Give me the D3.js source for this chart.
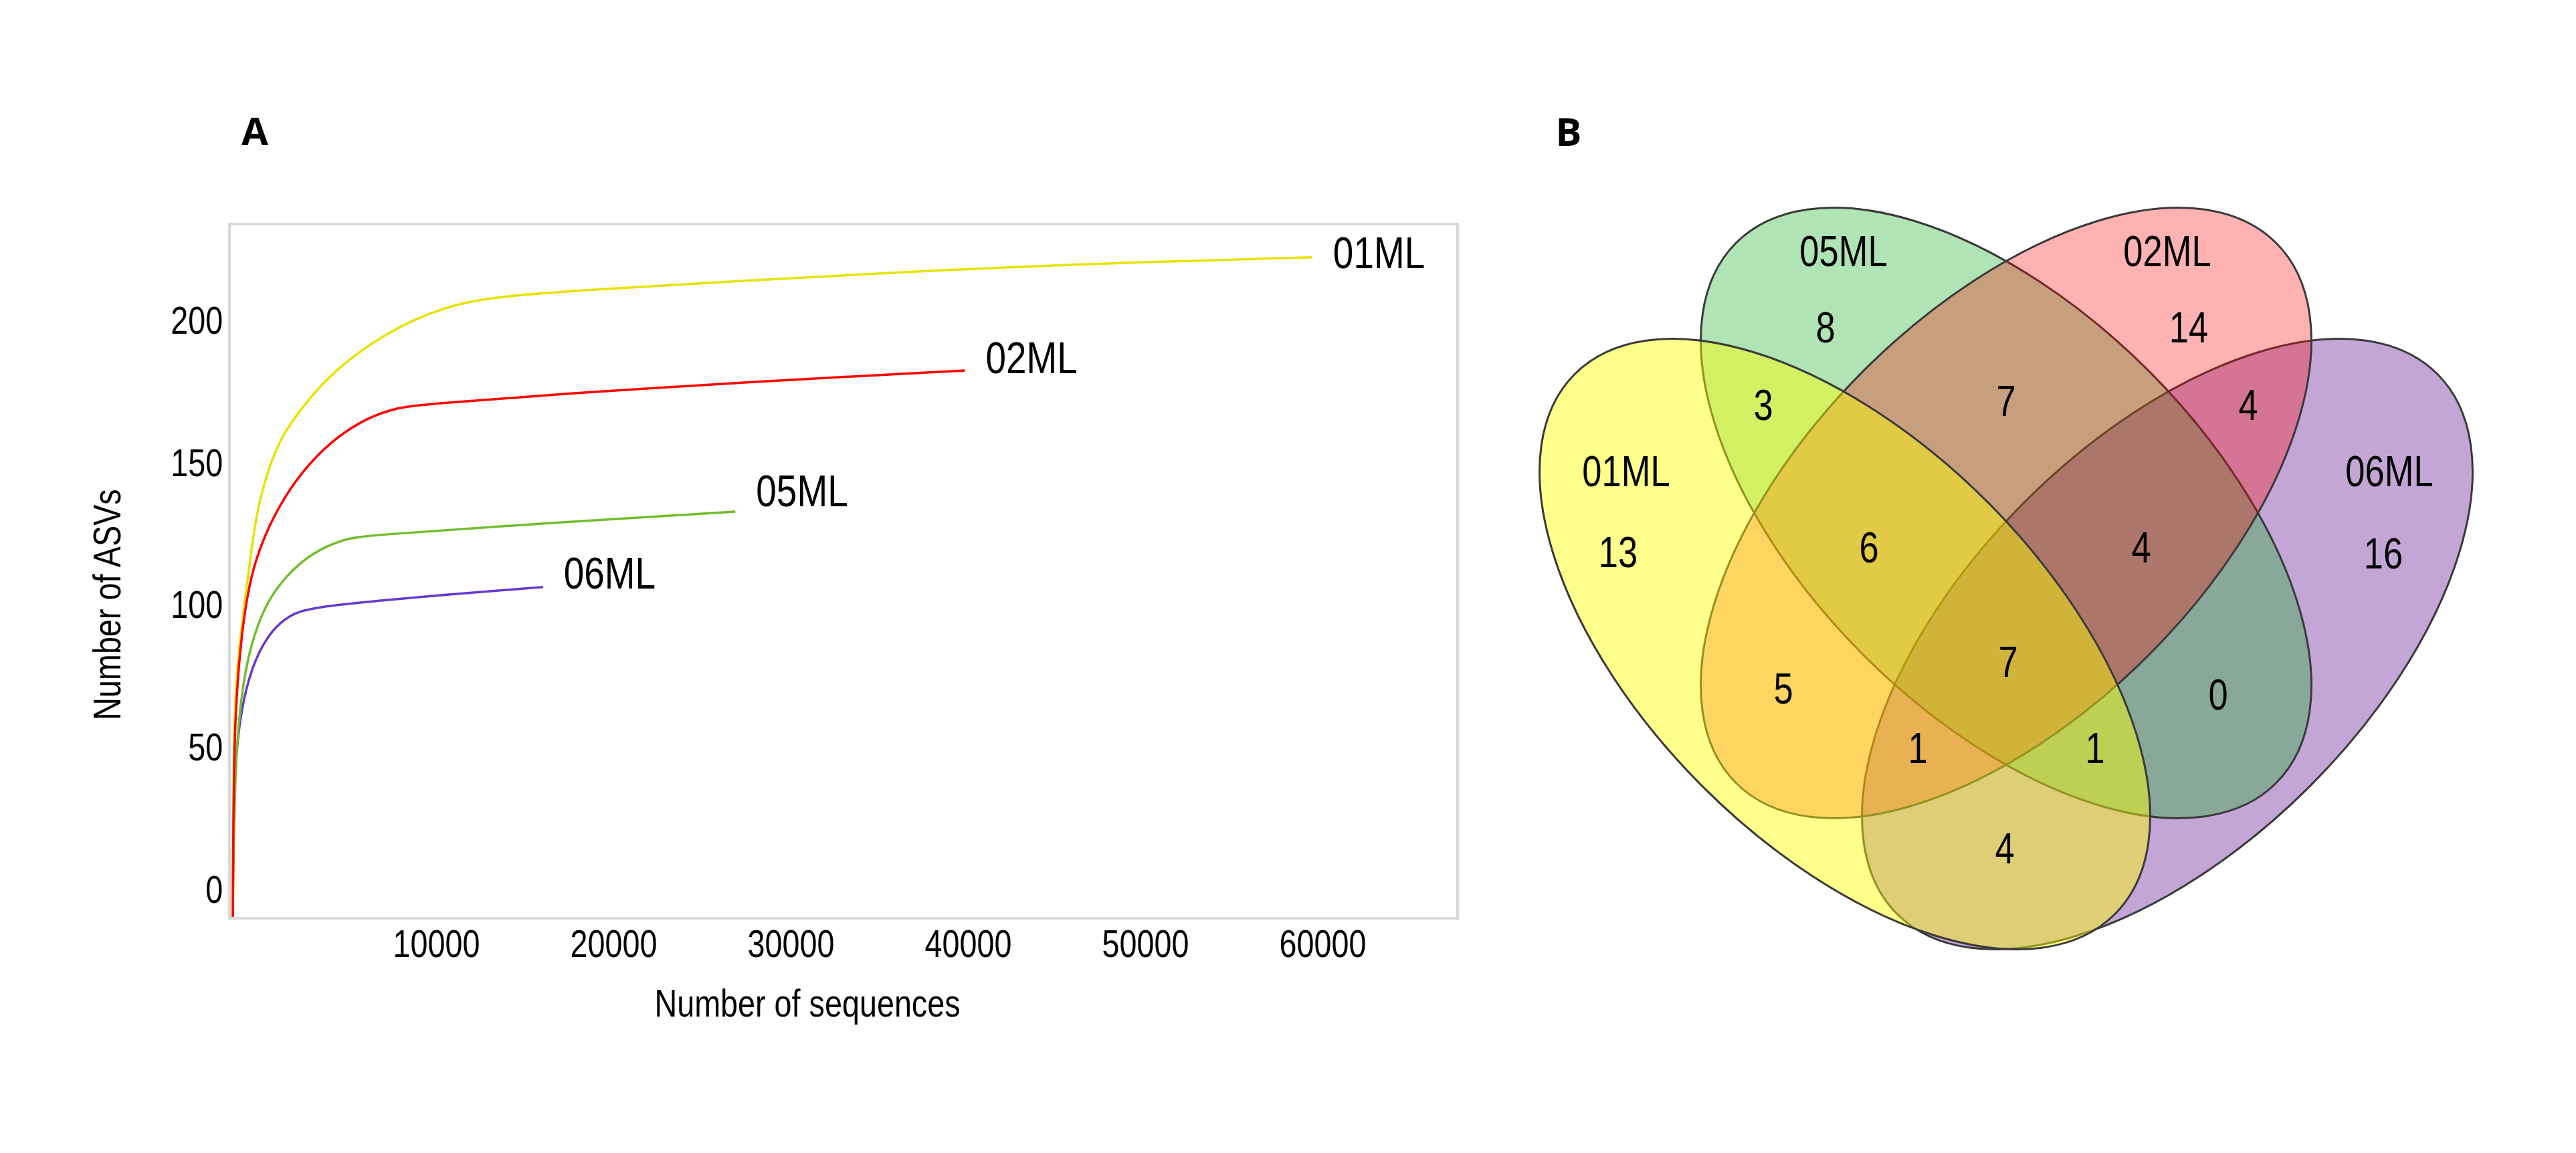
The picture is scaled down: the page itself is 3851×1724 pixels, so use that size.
<!DOCTYPE html>
<html>
<head>
<meta charset="utf-8">
<script src="https://cdn.jsdelivr.net/npm/d3@7"></script>
<style>
  body { margin: 0; background: #fff; }
  text { font-family: "Liberation Sans", Arial, sans-serif; fill: #000; }
</style>
</head>
<body>
<div id="fig"></div>
<script>
// ---- panel A: rarefaction curves, [sequences, ASVs]
const samples = ["01ML", "02ML", "05ML", "06ML"];
const curve01 = [[0,-10],[40,40],[100,62],[250,78],[453,90],[705,103],[1000,117],[1272,129.5],[1585,138.5],[1962,147],[2581,157],[3220,163.8],[4479,174.2],[5736,182.2],[7238,189.7],[8700,195.5],[10125,200.2],[12000,204.9],[14360,208.4],[20000,211],[28400,214],[40000,218],[50000,220.5],[60900,222.4]];
const curve02 = [[0,-10],[50,40],[150,62],[400,85],[883,107.3],[1558,121.3],[2615,135.3],[3962,147.6],[5506,157.5],[7250,165],[8970,169.1],[10500,170.7],[20000,175],[28400,178.4],[41300,182.6]];
const curve05 = [[0,-10],[113,44.7],[490,69.3],[980,85.9],[1850,100.7],[3000,110.6],[4530,118.8],[6260,123.4],[7430,124.6],[17400,128.9],[28350,133]];
const curve06 = [[0,-10],[20,28.2],[210,51.3],[600,67.7],[1270,81.8],[2230,91.7],[3200,96.6],[4340,99.4],[9740,102.7],[17500,106.5]];
const curves = [curve01, curve02, curve05, curve06];
const xTicks = [10000, 20000, 30000, 40000, 50000, 60000];
const yTicks = [0, 50, 100, 150, 200];

// ---- panel B: venn counts
const vennSets = ["01ML", "05ML", "02ML", "06ML"];
const vennRegions = ["01ML", "05ML", "02ML", "06ML",
  "01ML&05ML", "05ML&02ML", "02ML&06ML", "01ML&02ML", "05ML&06ML", "01ML&06ML",
  "01ML&05ML&02ML", "05ML&02ML&06ML", "01ML&02ML&06ML", "01ML&05ML&06ML",
  "01ML&05ML&02ML&06ML"];
const vennCounts = [13, 8, 14, 16, 3, 7, 4, 5, 0, 4, 6, 4, 1, 1, 7];

const W = 3851, H = 1724;
const svg = d3.select('#fig').append('svg')
  .attr('width', W).attr('height', H)
  .style('display', 'block');
svg.append('rect').attr('width', W).attr('height', H).attr('fill', '#fff');

const squeeze = 0.82; // the text in the figure is horizontally condensed

// ================= A =================
const plot = {left: 343, top: 335, right: 2179, bottom: 1373};
const lineColors = {"01ML": "#e8e200", "02ML": "#ff0000", "05ML": "#72bd2f", "06ML": "#6639cc"};
// label centre relative to the line end (px)
const labelShift = {"01ML": -8, "02ML": -20, "05ML": -32, "06ML": -22};

const x = d3.scaleLinear()
  .domain([-189, 69094])
  .range([plot.left, plot.right]);
const y = d3.scaleLinear()
  .domain([-9.9, 234.1])
  .range([plot.bottom, plot.top]);

svg.append('text')
  .attr('x', 381).attr('y', 217)
  .attr('text-anchor', 'middle')
  .style('font-family', '"Open Sans", sans-serif')
  .style('font-weight', 700)
  .style('font-size', '58px')
  .text('A');

svg.append('clipPath').attr('id', 'plotclip')
  .append('rect')
  .attr('x', plot.left).attr('y', plot.top)
  .attr('width', plot.right - plot.left).attr('height', plot.bottom - plot.top);

// b-spline smooths out the small reading errors between hand-read points
const line = d3.line()
  .x(d => x(d[0]))
  .y(d => y(d[1]))
  .curve(d3.curveBasis);

// draw order: purple, green, yellow, red on top
const drawOrder = [3, 2, 0, 1];
const lines = svg.append('g').attr('clip-path', 'url(#plotclip)');
drawOrder.forEach(i => {
  lines.append('path')
    .datum(curves[i])
    .attr('d', line)
    .attr('fill', 'none')
    .attr('stroke', lineColors[samples[i]])
    .attr('stroke-width', 3.5);
});

// end labels
drawOrder.forEach(i => {
  const last = curves[i][curves[i].length - 1];
  svg.append('text')
    .attr('transform', `translate(${x(last[0]) + 31},${y(last[1]) + labelShift[samples[i]]}) scale(${squeeze},1)`)
    .attr('dy', '0.36em')
    .style('font-size', '67px')
    .text(samples[i]);
});

// frame
svg.append('rect')
  .attr('x', plot.left).attr('y', plot.top)
  .attr('width', plot.right - plot.left).attr('height', plot.bottom - plot.top)
  .attr('fill', 'none')
  .attr('stroke', '#d9d9d9')
  .attr('stroke-width', 4);

// x axis
const xAxis = svg.append('g')
  .attr('transform', `translate(0,${plot.bottom})`)
  .call(d3.axisBottom(x).tickValues(xTicks).tickFormat(d3.format('d')).tickSize(0).tickPadding(18));
xAxis.select('.domain').remove();
xAxis.selectAll('text')
  .attr('transform', `translate(39,0) scale(${squeeze},1)`)
  .style('font-size', '57px')
  .style('font-family', '"Liberation Sans", Arial, sans-serif')
  .attr('fill', '#000');

// y axis
const yAxis = svg.append('g')
  .attr('transform', `translate(${plot.left},0)`)
  .call(d3.axisLeft(y).tickValues(yTicks).tickSize(0).tickPadding(12));
yAxis.select('.domain').remove();
yAxis.selectAll('text')
  .attr('transform', `scale(${squeeze},1)`)
  .style('font-size', '57px')
  .style('font-family', '"Liberation Sans", Arial, sans-serif')
  .attr('fill', '#000');

svg.append('text')
  .attr('transform', `translate(1207,1520) scale(${squeeze},1)`)
  .attr('text-anchor', 'middle')
  .style('font-size', '57px')
  .text('Number of sequences');

svg.append('text')
  .attr('transform', `translate(180,904) rotate(-90) scale(${squeeze},1)`)
  .attr('text-anchor', 'middle')
  .style('font-size', '57px')
  .text('Number of ASVs');

// ================= B =================
svg.append('text')
  .attr('x', 2345).attr('y', 218)
  .attr('text-anchor', 'middle')
  .style('font-family', '"Open Sans", sans-serif')
  .style('font-weight', 700)
  .style('font-size', '58px')
  .text('B');

const ellipseLayout = {
  "01ML": {cx: 2758, cy: 963, rot: 45, fill: "#ffff00", alpha: 0.45, lx: 2431, ly: 704},
  "05ML": {cx: 2999, cy: 767, rot: 45, fill: "rgb(23,176,34)", alpha: 0.34, lx: 2756, ly: 375},
  "02ML": {cx: 2999, cy: 767, rot: -45, fill: "#ff0000", alpha: 0.30, lx: 3240, ly: 375},
  "06ML": {cx: 3240, cy: 963, rot: -45, fill: "rgb(135,77,173)", alpha: 0.50, lx: 3572, ly: 704}
};
const rx = 571, ry = 301;

// drawn purple, green, red, yellow: later fills tint earlier outlines
const vennOrder = ["06ML", "05ML", "02ML", "01ML"];
svg.append('g').selectAll('ellipse')
  .data(vennOrder)
  .join('ellipse')
  .attr('transform', d => `translate(${ellipseLayout[d].cx},${ellipseLayout[d].cy}) rotate(${ellipseLayout[d].rot})`)
  .attr('rx', rx).attr('ry', ry)
  .attr('fill', d => ellipseLayout[d].fill)
  .attr('fill-opacity', d => ellipseLayout[d].alpha)
  .attr('stroke', '#3a3a3a')
  .attr('stroke-width', 3);

svg.append('g').selectAll('text')
  .data(vennSets)
  .join('text')
  .attr('transform', d => `translate(${ellipseLayout[d].lx},${ellipseLayout[d].ly}) scale(${squeeze},1)`)
  .attr('text-anchor', 'middle')
  .attr('dy', '0.36em')
  .style('font-size', '64px')
  .text(d => d);

const regionPos = {
  "01ML": [2419, 825], "05ML": [2729, 489], "02ML": [3272, 489], "06ML": [3563, 827],
  "01ML&05ML": [2636, 605], "05ML&02ML": [2999, 599], "02ML&06ML": [3361, 605],
  "01ML&02ML": [2666, 1029], "05ML&06ML": [3316, 1038], "01ML&06ML": [2997, 1268],
  "01ML&05ML&02ML": [2794, 818], "05ML&02ML&06ML": [3201, 818],
  "01ML&02ML&06ML": [2867, 1118], "01ML&05ML&06ML": [3132, 1118],
  "01ML&05ML&02ML&06ML": [3002, 989]
};

svg.append('g').selectAll('text')
  .data(vennRegions.map((r, i) => ({r, n: vennCounts[i]})))
  .join('text')
  .attr('transform', d => `translate(${regionPos[d.r][0]},${regionPos[d.r][1]}) scale(${squeeze},1)`)
  .attr('text-anchor', 'middle')
  .attr('dy', '0.36em')
  .style('font-size', '64px')
  .text(d => d.n);
</script>
</body>
</html>
